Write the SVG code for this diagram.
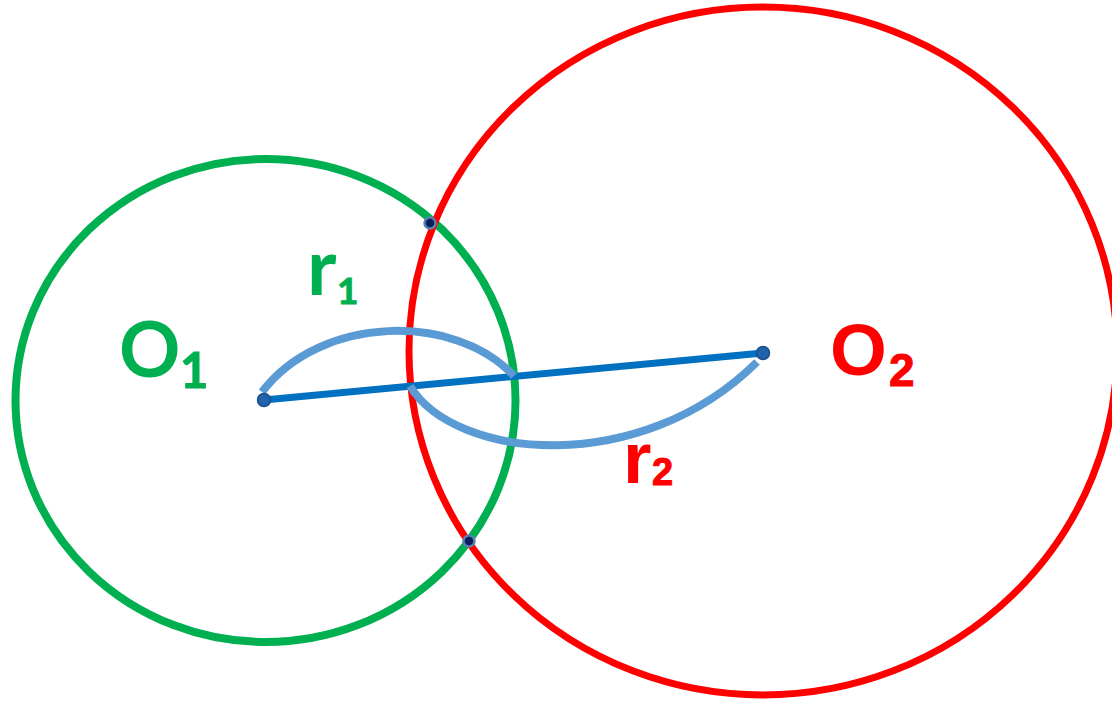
<svg xmlns="http://www.w3.org/2000/svg" width="1112" height="702" viewBox="0 0 1112 702">
<style>
.circ{fill:none}
.arc{fill:none;stroke:#5B9BD5;stroke-width:8;stroke-linecap:butt}
.g{fill:#00B050;font-family:Lato,"Open Sans",sans-serif;font-weight:bold}
.rd{fill:#FF0000;font-family:"Liberation Sans",Arial,sans-serif;font-weight:bold}
.ctr{fill:#1F63AC;stroke:#1A4F8A;stroke-width:1.5}
.ix{fill:#0A1F5C;stroke:#5A7FB0;stroke-width:2.5}
</style>
<rect width="1112" height="702" fill="#FFFFFF"/>
<g id="circle-O1"><ellipse class="circ" cx="265.5" cy="400.5" rx="250" ry="241.5" stroke="#00B050" stroke-width="8"/></g>
<g id="circle-O2"><ellipse class="circ" cx="763" cy="351" rx="354" ry="344" stroke="#FF0000" stroke-width="7"/></g>
<g id="connectors">
<line x1="264" y1="400" x2="763" y2="353" stroke="#0070C0" stroke-width="7"/>
<path class="arc" d="M262,392 C320,315 455,312 514,376"/>
<path class="arc" d="M410,386 C455,460 640,478 757,362"/>
</g>
<g id="O1"><circle class="ctr" cx="264" cy="400" r="6.5"/>
<text class="g" x="119" y="377" font-size="76">O</text><text class="g" x="180" y="388" font-size="49" stroke="#00B050" stroke-width="1">1</text></g>
<g id="O2"><circle class="ctr" cx="763" cy="353" r="6.5"/>
<text class="rd" x="830" y="375" font-size="73">O</text><text class="rd" x="889" y="386" font-size="46" stroke="#FF0000" stroke-width="1">2</text></g>
<g id="r1"><text class="g" x="307" y="295" font-size="79">r</text><text class="g" x="337" y="304" font-size="37" stroke="#00B050" stroke-width="1">1</text></g>
<g id="r2"><text class="rd" x="623" y="483" font-size="73">r</text><text class="rd" x="652" y="485" font-size="38" stroke="#FF0000" stroke-width="1">2</text></g>
<g id="intersections">
<circle class="ix" cx="430" cy="223" r="5.5"/>
<circle class="ix" cx="469" cy="541" r="5.5"/>
</g>
</svg>
